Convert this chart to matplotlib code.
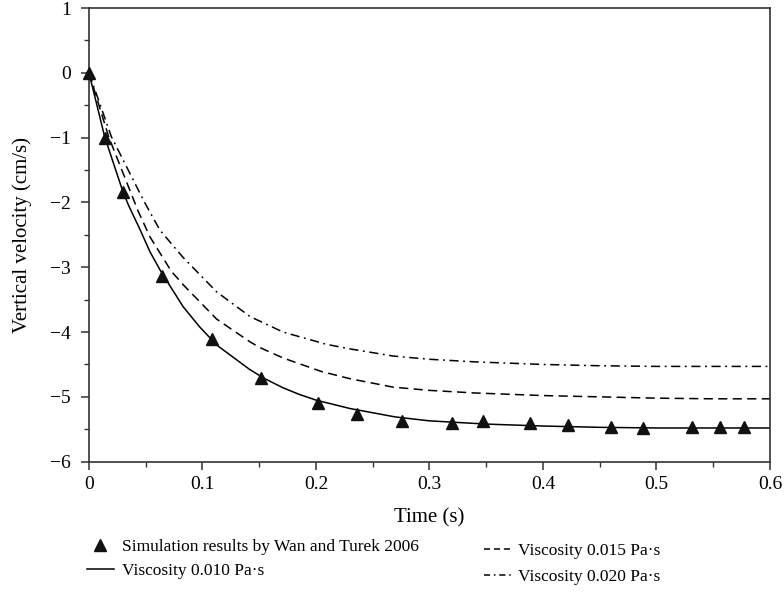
import matplotlib
matplotlib.use("Agg")
import matplotlib.pyplot as plt
from matplotlib.ticker import MultipleLocator
from matplotlib.lines import Line2D

plt.rcParams['font.family'] = ['Liberation Serif', 'DejaVu Serif']

# Wan and Turek 2006 reference points
sim_t = [0.0, 0.014, 0.030, 0.064, 0.108, 0.152, 0.202, 0.236, 0.276, 0.320,
         0.347, 0.389, 0.4225, 0.460, 0.488, 0.531, 0.556, 0.577]
sim_v = [0.0, -1.01, -1.84, -3.14, -4.10, -4.71, -5.09, -5.27, -5.37, -5.41,
         -5.38, -5.41, -5.44, -5.47, -5.48, -5.47, -5.47, -5.47]

# viscosity 0.010 Pa.s
t_010 = [0, 0.0138, 0.03, 0.035, 0.045, 0.0537, 0.0632, 0.083, 0.0975, 0.1125,
         0.1418, 0.155, 0.171, 0.185, 0.2, 0.23, 0.27, 0.3, 0.35, 0.4, 0.45,
         0.5, 0.55, 0.6]
v_010 = [0, -0.985, -1.84, -2.05, -2.42, -2.76, -3.06, -3.61, -3.92, -4.20,
         -4.58, -4.72, -4.86, -4.96, -5.05, -5.18, -5.31, -5.37, -5.42, -5.45,
         -5.47, -5.48, -5.48, -5.48]

# viscosity 0.015 Pa.s
t_015 = [0, 0.0173, 0.0432, 0.0537, 0.0725, 0.083, 0.1125, 0.1418, 0.1507, 0.171,
         0.205, 0.23, 0.268, 0.3, 0.34, 0.4, 0.45, 0.5, 0.55, 0.6]
v_015 = [0, -0.985, -2.13, -2.53, -3.06, -3.27, -3.80, -4.15, -4.24, -4.40,
         -4.61, -4.72, -4.85, -4.90, -4.94, -4.98, -5.00, -5.02, -5.03, -5.03]

# viscosity 0.020 Pa.s
t_020 = [0, 0.0197, 0.049, 0.0626, 0.083, 0.1125, 0.1418, 0.171, 0.2094, 0.23,
         0.268, 0.3, 0.34, 0.4, 0.45, 0.5, 0.55, 0.6]
v_020 = [0, -0.985, -2.0, -2.43, -2.85, -3.38, -3.76, -4.00, -4.19, -4.26,
         -4.37, -4.42, -4.46, -4.50, -4.52, -4.53, -4.53, -4.53]

fig = plt.figure(figsize=(7.84, 6.11), dpi=100)
ax = fig.add_axes([0.1135, 0.2444, 0.8685, 0.7425])

ax.plot(t_010, v_010, color='black', lw=1.1)
ax.plot(t_015, v_015, color='black', lw=1.1, dashes=(6, 3.5))
ax.plot(t_020, v_020, color='black', lw=1.1, dashes=(6, 3, 1.2, 3))
ax.plot(sim_t, sim_v, linestyle='none', marker='^', ms=9, color='#111111',
        clip_on=False, zorder=5)

ax.set_xlim(0, 0.6)
ax.set_ylim(-6, 1)
ax.xaxis.set_minor_locator(MultipleLocator(0.05))
ax.yaxis.set_major_locator(MultipleLocator(1))
ax.yaxis.set_minor_locator(MultipleLocator(0.5))
ax.set_xticks([0, 0.1, 0.2, 0.3, 0.4, 0.5, 0.6])
ax.set_xticklabels(['0', '0.1', '0.2', '0.3', '0.4', '0.5', '0.6'])
ax.tick_params(which='major', direction='out', length=6, width=1.1,
               labelsize=14, color='#333333')
ax.tick_params(axis='x', which='major', pad=4)
ax.tick_params(axis='y', which='major', pad=7)
ax.tick_params(which='minor', direction='out', length=3.5, width=1.0, color='#333333')
for s in ax.spines.values():
    s.set_linewidth(1.2)
    s.set_color('#333333')

ax.set_xlabel('Time (s)', fontsize=15, labelpad=11)
ax.set_ylabel('Vertical velocity (cm/s)', fontsize=15, labelpad=13)

h_sim = Line2D([], [], linestyle='none', marker='^', ms=9, color='#111111')
h_010 = Line2D([], [], color='black', lw=1.1)
h_015 = Line2D([], [], color='black', lw=1.1, dashes=(4, 2.5))
h_020 = Line2D([], [], color='black', lw=1.1, dashes=(4, 2.5, 1, 2.5))

common = dict(frameon=False, fontsize=12.5, handlelength=1.55, handletextpad=0.45,
              borderpad=0, borderaxespad=0, loc='upper left')
fig.legend([h_sim, h_010],
           ['Simulation results by Wan and Turek 2006', 'Viscosity 0.010 Pa·s'],
           bbox_to_anchor=(0.111, 0.118), labelspacing=0.46, **common)
fig.legend([h_015, h_020],
           ['Viscosity 0.015 Pa·s', 'Viscosity 0.020 Pa·s'],
           bbox_to_anchor=(0.617, 0.111), labelspacing=0.57, **common)

fig.savefig('out.png', dpi=100)
